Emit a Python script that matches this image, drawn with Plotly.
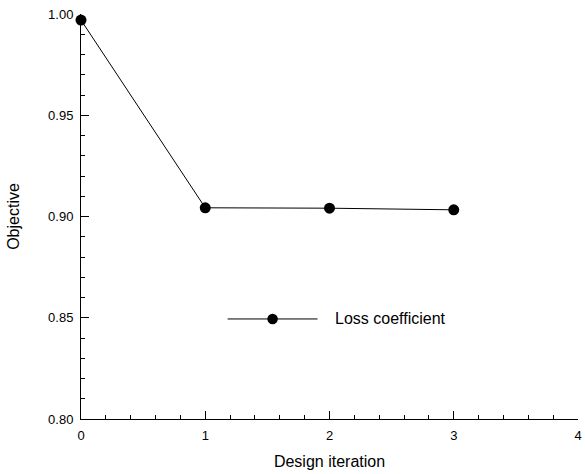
import plotly.graph_objects as go

# Design optimisation history: loss coefficient per design iteration
iterations = [0, 1, 2, 3]
loss_coefficient = [0.997, 0.9043, 0.9041, 0.9033]

x_ticks = [0, 1, 2, 3, 4]
y_ticks = [0.80, 0.85, 0.90, 0.95, 1.00]
y_tick_text = ["0.80", "0.85", "0.90", "0.95", "1.00"]

series_name = "Loss coefficient"
x_title = "Design iteration"
y_title = "Objective"

font_family = "Liberation Sans, Arial, Helvetica, sans-serif"

fig = go.Figure()
fig.add_trace(go.Scatter(
    x=iterations,
    y=loss_coefficient,
    mode="lines+markers",
    name=series_name,
    line=dict(color="black", width=1),
    marker=dict(color="black", size=11),
    cliponaxis=False,
    showlegend=False,
))

# Legend key drawn inside the plot area: line, marker and label
key_y = 0.247           # paper fraction
key_x0, key_x1 = 0.295, 0.476
fig.add_shape(type="line", xref="paper", yref="paper",
              x0=key_x0, x1=key_x1, y0=key_y, y1=key_y,
              line=dict(color="black", width=1))
fig.add_shape(type="circle", xref="paper", yref="paper",
              x0=(key_x0 + key_x1) / 2 - 0.0106, x1=(key_x0 + key_x1) / 2 + 0.0106,
              y0=key_y - 0.013, y1=key_y + 0.013,
              fillcolor="black", line=dict(color="black", width=0))
fig.add_annotation(xref="paper", yref="paper", x=0.508, y=key_y,
                   xanchor="left", yanchor="middle", showarrow=False,
                   text=series_name,
                   font=dict(family=font_family, size=16, color="black"))

axis_common = dict(
    showgrid=False,
    zeroline=False,
    showline=True,
    linecolor="black",
    linewidth=1,
    ticks="inside",
    tickcolor="black",
    ticklen=8,
    tickwidth=1,
    automargin=False,
    ticklabeloverflow="allow",
    tickfont=dict(family=font_family, size=13, color="black"),
    title_font=dict(family=font_family, size=16, color="black"),
)

fig.update_xaxes(
    range=[0, 4],
    tickvals=x_ticks,
    ticktext=[str(v) for v in x_ticks],
    title_text=x_title,
    title_standoff=14,
    ticklabelstandoff=4,
    minor=dict(ticks="inside", ticklen=4, dtick=0.2, tickcolor="black", tickwidth=1),
    **axis_common,
)
fig.update_yaxes(
    range=[0.80, 1.00],
    tickvals=y_ticks,
    ticktext=y_tick_text,
    title_text=y_title,
    title_standoff=24,
    ticklabelstandoff=4,
    minor=dict(ticks="inside", ticklen=4, dtick=0.01, tickcolor="black", tickwidth=1),
    **axis_common,
)

fig.update_layout(
    width=585,
    height=474,
    margin=dict(l=81, r=7, t=14, b=55),
    paper_bgcolor="white",
    plot_bgcolor="white",
    font=dict(family=font_family, color="black"),
)

fig.write_html("out.html")
